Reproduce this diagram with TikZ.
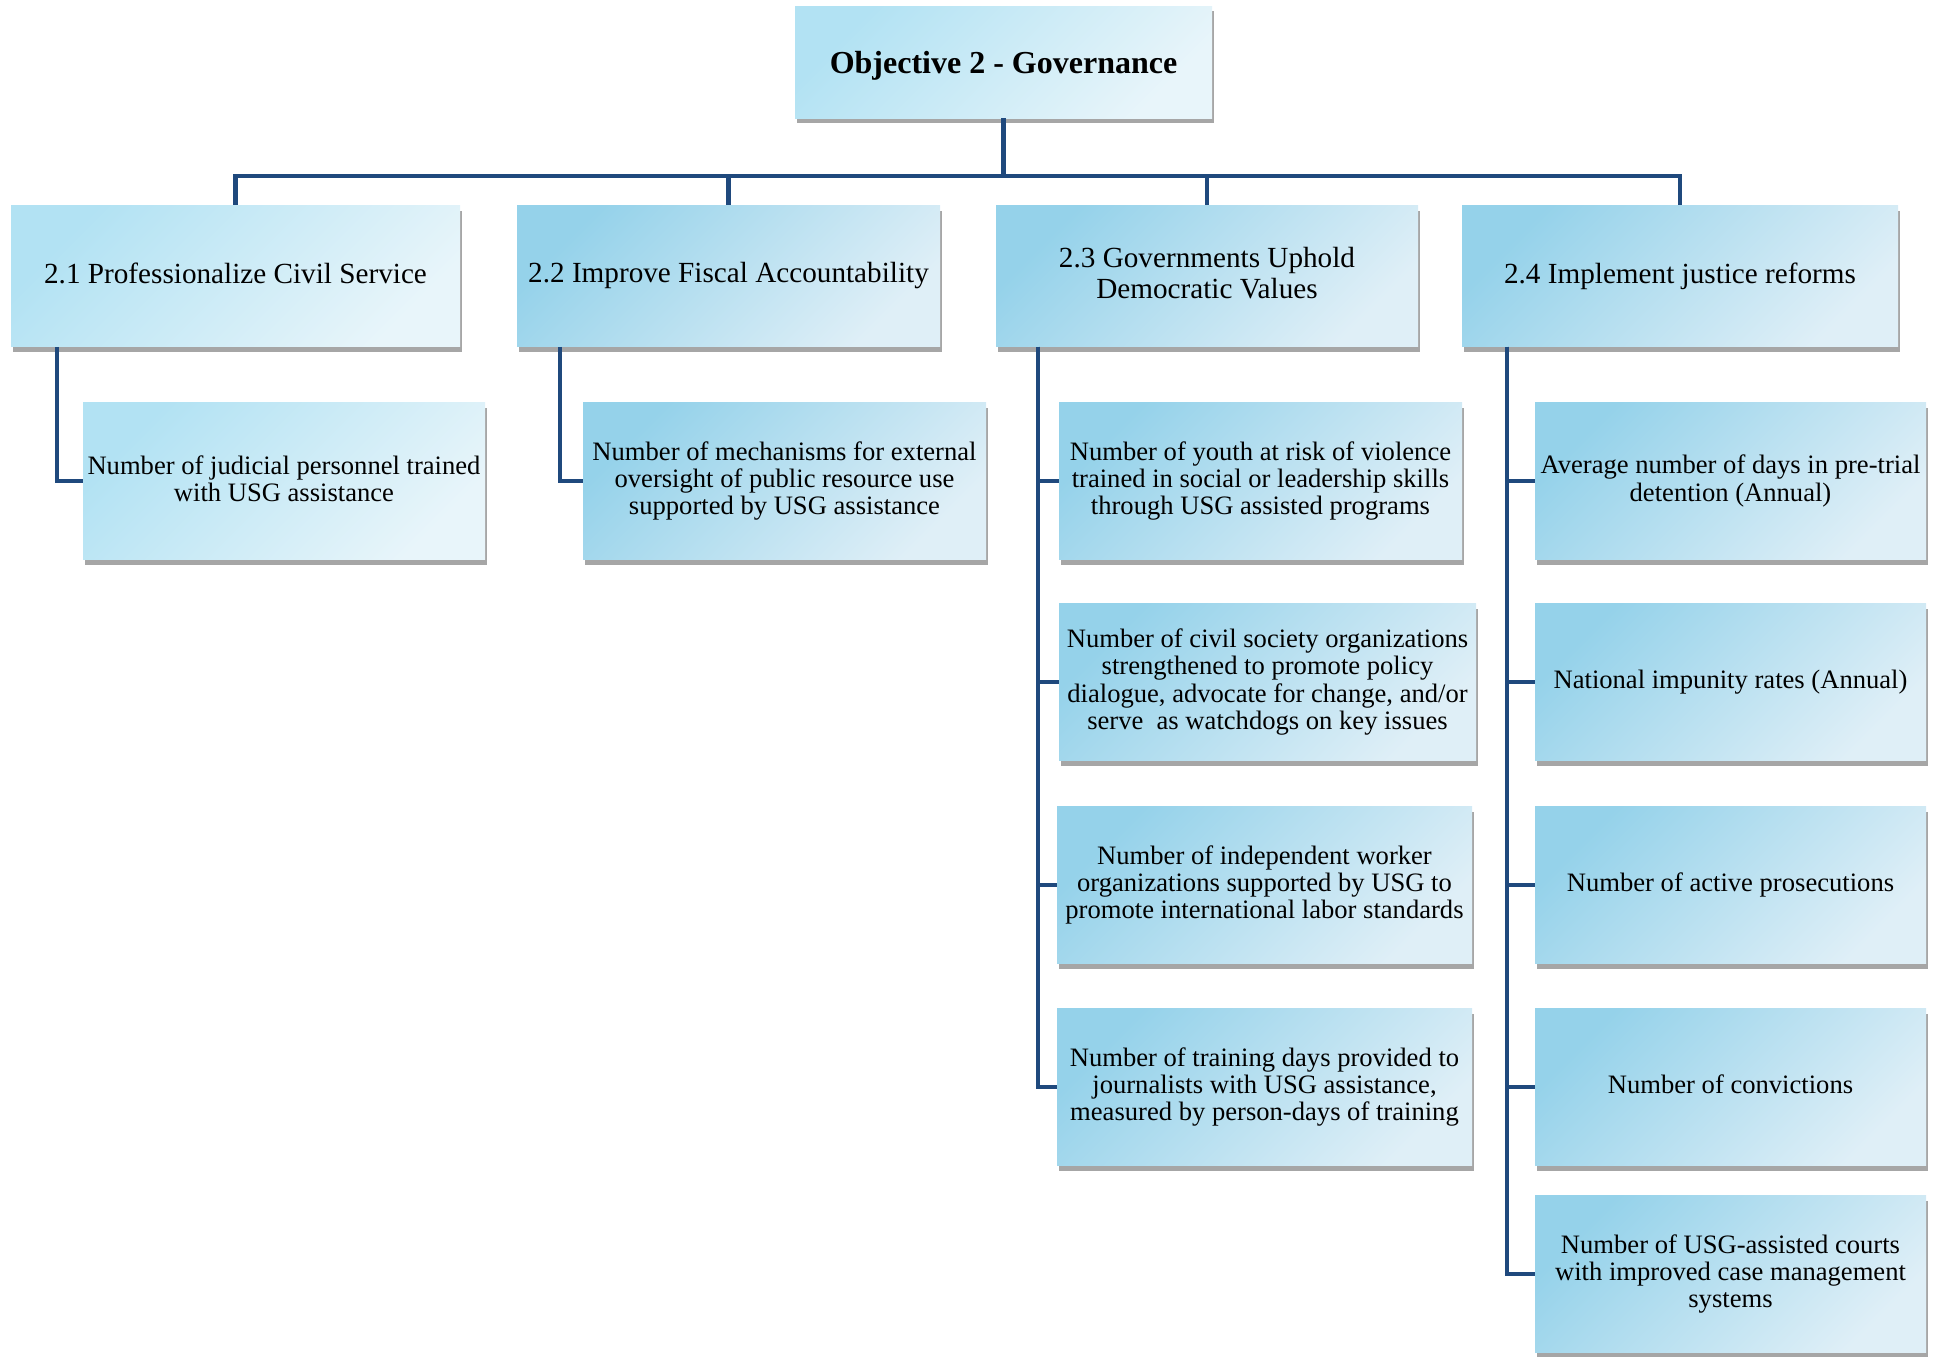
\documentclass[tikz,border=0pt]{standalone}
\usepackage{fontspec}
\setmainfont{Liberation Serif}
\usetikzlibrary{shadows}
\definecolor{lineblue}{HTML}{1F497D}
\definecolor{shadowgray}{HTML}{A6A6A6}
\definecolor{lA}{HTML}{B2E2F3}
\definecolor{lB}{HTML}{E8F5FA}
\definecolor{dA}{HTML}{95D2EA}
\definecolor{dB}{HTML}{DFEFF7}
\newcommand{\boxstrut}{\rule[-0.19em]{0pt}{0.87em}}
\newcommand{\titlestrut}{\rule[-0.07em]{0pt}{0.99em}}
\tikzset{
  box/.style={align=center, inner sep=2pt,
    execute at begin node=\boxstrut, execute at end node=\boxstrut,
    drop shadow={shadow xshift=1pt, shadow yshift=-2.5pt, fill=shadowgray, opacity=1}},
  lightbox/.style={box, top color=lA, bottom color=lB, shading angle=45},
  deepbox/.style={box, top color=dA, bottom color=dB, shading angle=45},
  titlefont/.style={font=\fontsize{16pt}{18pt}\selectfont\bfseries,
    execute at begin node=\titlestrut, execute at end node=\titlestrut},
  lonefont/.style={font=\fontsize{14.6pt}{15.5pt}\selectfont},
  childfont/.style={font=\fontsize{13.3pt}{13.7pt}\selectfont},
  lvlone/.style={minimum height=70.5pt, lonefont},
  child/.style={minimum height=78.5pt, childfont},
  conn/.style={draw=lineblue, line width=2.1pt}
}
\begin{document}
\begin{tikzpicture}[x=0.5pt, y=-0.5pt]
\useasboundingbox (0,0) rectangle (1940,1356);
% title
\node[lightbox, titlefont, minimum width=208.5pt, minimum height=56pt] (obj) at (1003.5,62) {Objective 2 - Governance};
% level one
\node[lightbox, lvlone, minimum width=224.5pt] (l21) at (235.5,276) {2.1 Professionalize Civil Service};
\node[deepbox, lvlone, minimum width=211.5pt] (l22) at (728.5,276) {2.2 Improve Fiscal Accountability};
\node[deepbox, lvlone, minimum width=211pt] (l23) at (1207,276) {2.3 Governments Uphold\\Democratic Values};
\node[deepbox, lvlone, minimum width=218pt] (l24) at (1680,276) {2.4 Implement justice reforms};
% children 2.1
\node[lightbox, child, minimum width=201pt] (c21) at (284,481) {Number of judicial personnel trained\\with USG assistance};
% children 2.2
\node[deepbox, child, minimum width=201.5pt] (c22) at (784.5,481) {Number of mechanisms for external\\oversight of public resource use\\supported by USG assistance};
% children 2.3
\node[deepbox, child, minimum width=201.5pt] (c23a) at (1260.5,481) {Number of youth at risk of violence\\trained in social or leadership skills\\through USG assisted programs};
\node[deepbox, child, minimum width=208.5pt] (c23b) at (1267.5,682) {Number of civil society organizations\\strengthened to promote policy\\dialogue, advocate for change, and/or\\serve\ \ as watchdogs on key issues};
\node[deepbox, child, minimum width=207.5pt] (c23c) at (1264.5,885) {Number of independent worker\\organizations supported by USG to\\promote international labor standards};
\node[deepbox, child, minimum width=207.5pt] (c23d) at (1264.5,1087) {Number of training days provided to\\journalists with USG assistance,\\measured by person-days of training};
% children 2.4
\node[deepbox, child, minimum width=195.5pt] (c24a) at (1730.5,481) {Average number of days in pre-trial\\detention (Annual)};
\node[deepbox, child, minimum width=195.5pt] (c24b) at (1730.5,682) {National impunity rates (Annual)};
\node[deepbox, child, minimum width=195.5pt] (c24c) at (1730.5,885) {Number of active prosecutions};
\node[deepbox, child, minimum width=195.5pt] (c24d) at (1730.5,1087) {Number of convictions};
\node[deepbox, child, minimum width=195.5pt] (c24e) at (1730.5,1274) {Number of USG-assisted courts\\with improved case management\\systems};
% top connectors
\coordinate (bus) at (1004,176);
\draw[conn] (obj.south) -- (obj.south |- bus) -| (l21.north);
\draw[conn] (obj.south) -- (obj.south |- bus) -| (l22.north);
\draw[conn] (obj.south) -- (obj.south |- bus) -| (l23.north);
\draw[conn] (obj.south) -- (obj.south |- bus) -| (l24.north);
% branch connectors
\draw[conn] ([xshift=23pt]l21.south west) |- (c21.west);
\draw[conn] ([xshift=21.5pt]l22.south west) |- (c22.west);
\foreach \c in {c23a,c23b,c23c,c23d}
  \draw[conn] ([xshift=21pt]l23.south west) |- (\c.west);
\foreach \c in {c24a,c24b,c24c,c24d,c24e}
  \draw[conn] ([xshift=22.5pt]l24.south west) |- (\c.west);
\end{tikzpicture}
\end{document}
